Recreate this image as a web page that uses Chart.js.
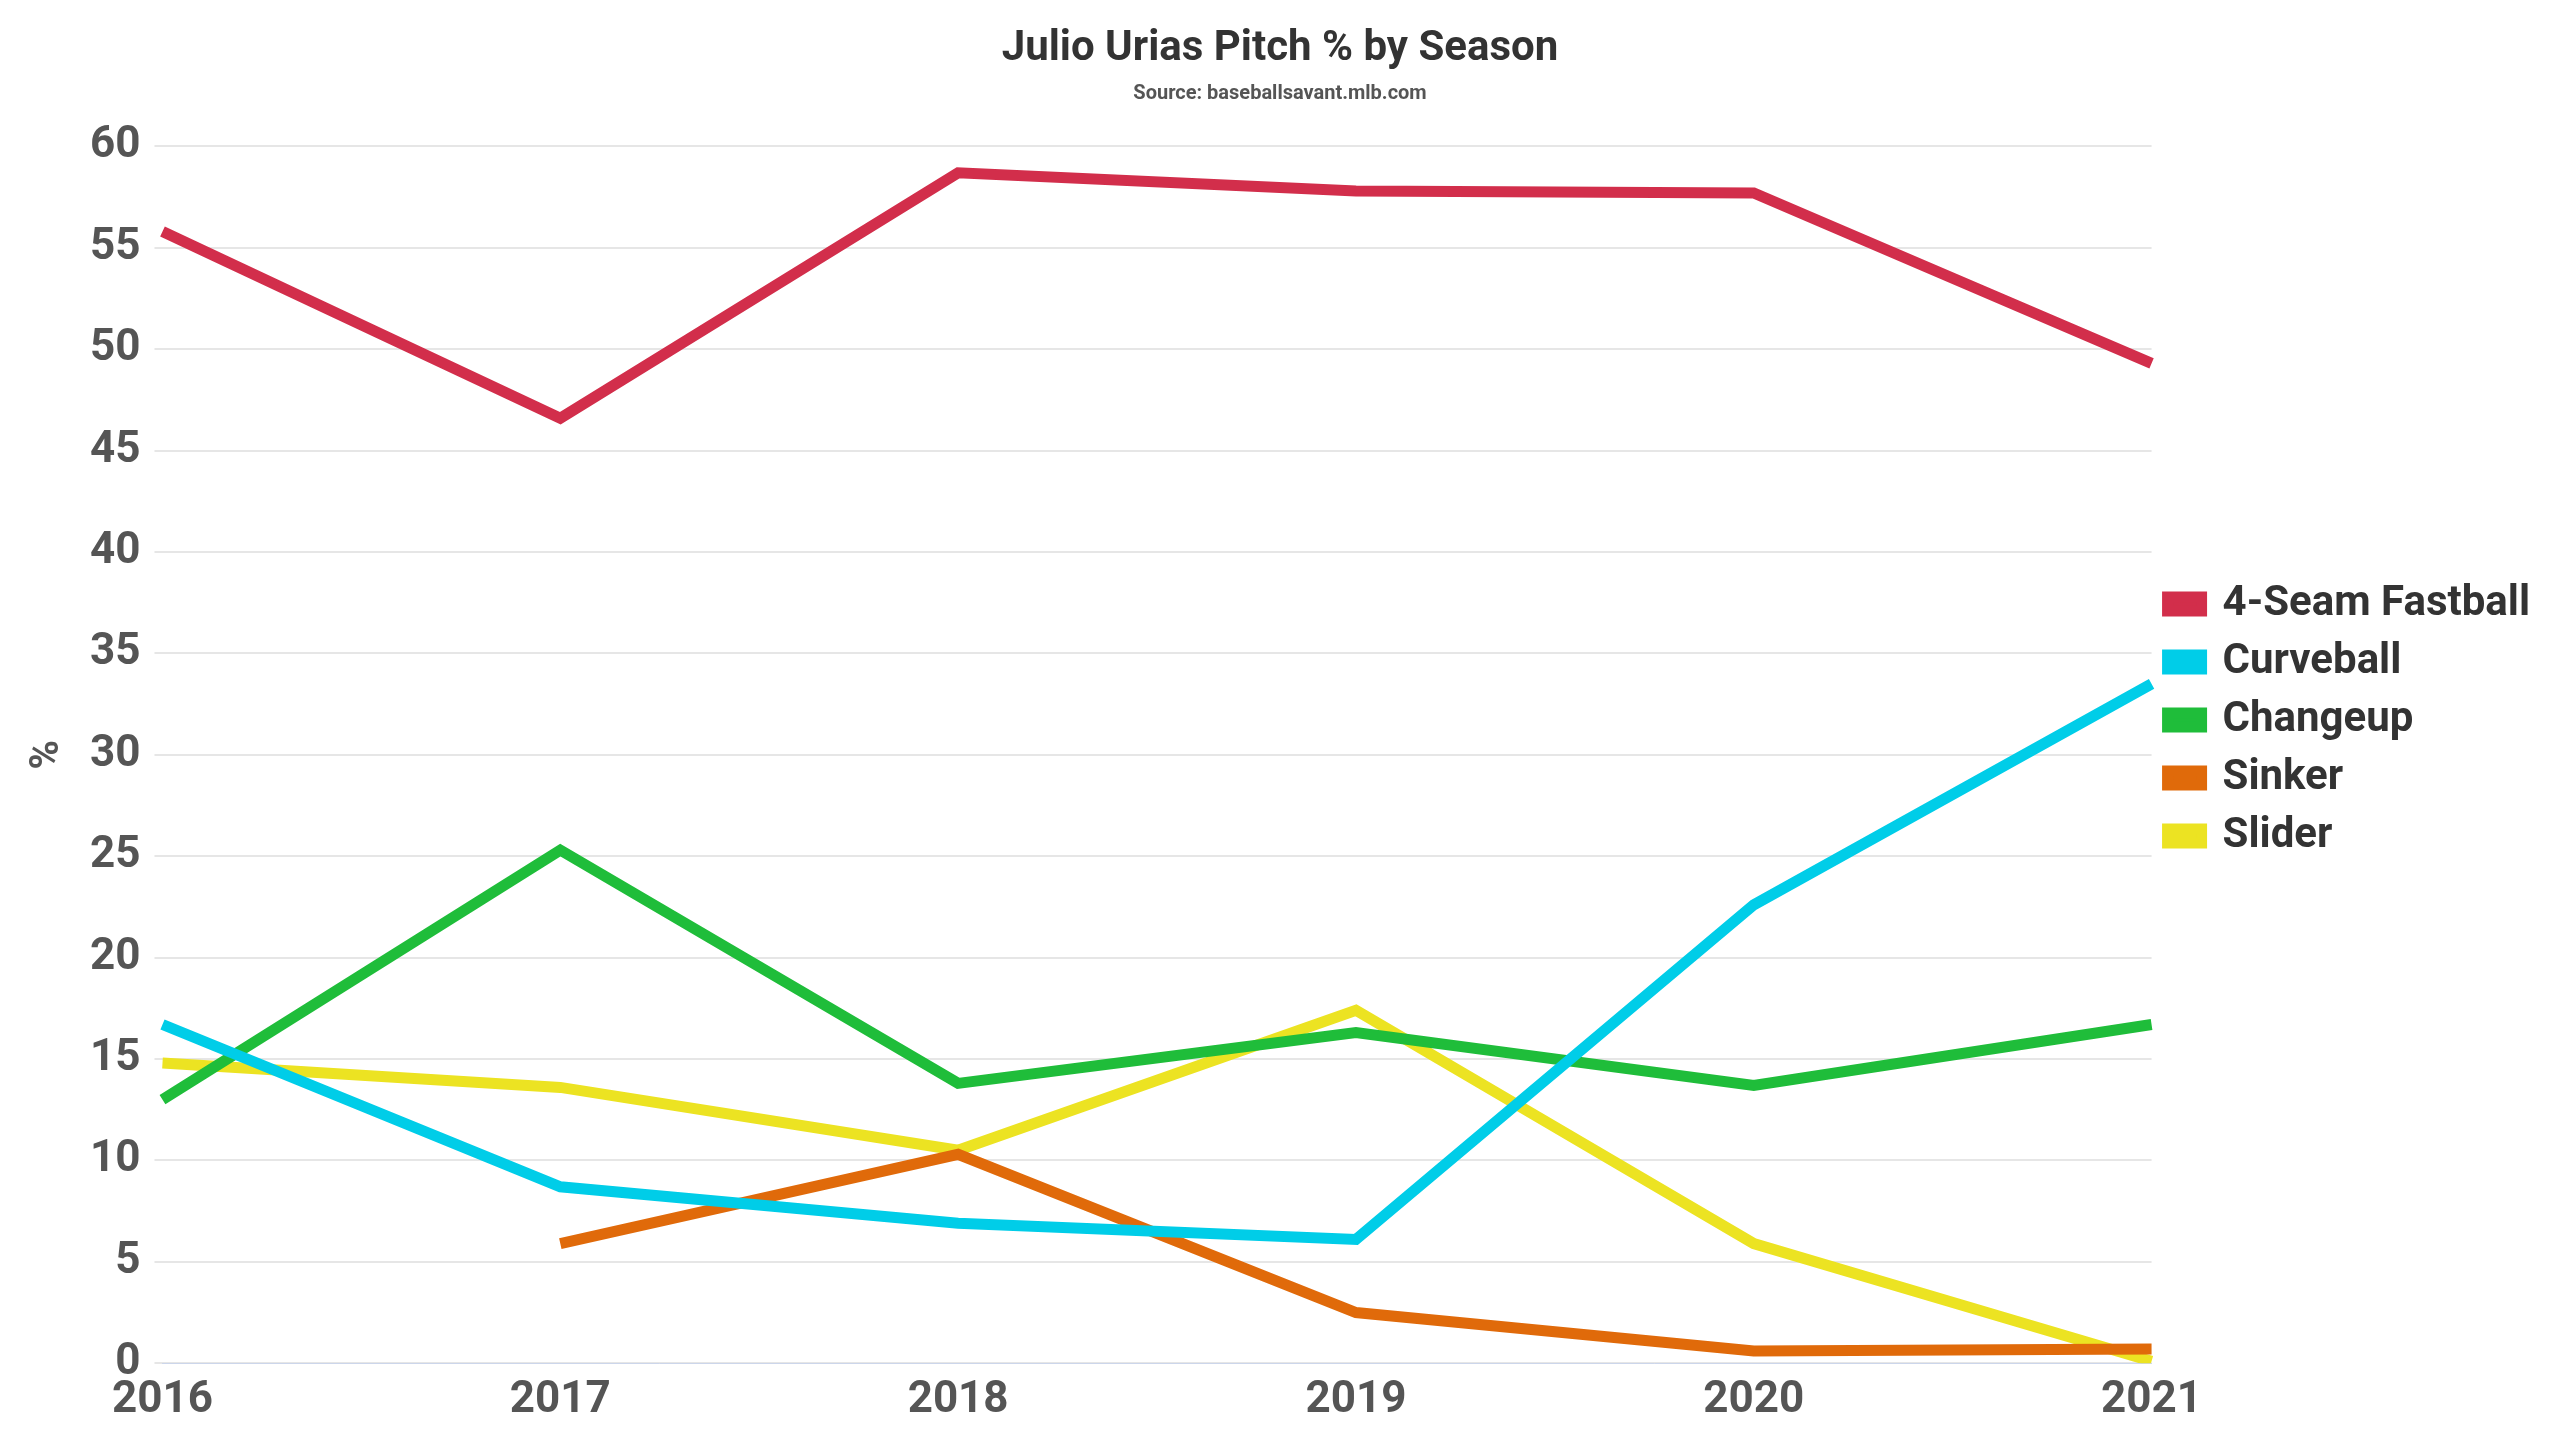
<!DOCTYPE html>
<html>
<head>
<meta charset="utf-8">
<script src="https://cdn.jsdelivr.net/npm/chart.js@4"></script>
<style>
  html, body { margin: 0; padding: 0; background: #fff; }
  #wrap { width: 2560px; height: 1440px; }
</style>
</head>
<body>
<div id="wrap"><canvas id="chart"></canvas></div>
<script>
const seasons = ['2016', '2017', '2018', '2019', '2020', '2021'];
const fourSeam = [55.8, 46.6, 58.7, 57.8, 57.7, 49.3];
const curveball = [16.7, 8.7, 6.9, 6.1, 22.6, 33.5];
const changeup = [13.0, 25.3, 13.8, 16.3, 13.7, 16.7];
const sinker = [null, 5.9, 10.3, 2.5, 0.6, 0.7];
const slider = [14.8, 13.6, 10.5, 17.4, 5.9, 0.1];
const yTicks = [0, 5, 10, 15, 20, 25, 30, 35, 40, 45, 50, 55, 60];

const font = 'Roboto';
const series = (label, data, color) => ({
  label, data, borderColor: color, backgroundColor: color,
  borderWidth: 11, pointRadius: 0, fill: false, tension: 0
});

const ctx = document.querySelector('#chart').getContext('2d');
new Chart(ctx, {
  type: 'line',
  data: {
    labels: seasons,
    datasets: [
      series('4-Seam Fastball', fourSeam, '#d22e4b'),
      series('Curveball', curveball, '#00cde8'),
      series('Changeup', changeup, '#1fbd3a'),
      series('Sinker', sinker, '#e06a0a'),
      series('Slider', slider, '#ece322')
    ]
  },
  options: {
    responsive: true,
    maintainAspectRatio: false,
    animation: false,
    layout: { padding: { left: 20, right: 20, top: 10, bottom: 10 } },
    plugins: {
      title: {
        display: true, text: 'Julio Urias Pitch % by Season', color: '#333',
        font: { family: font, size: 42, weight: 'bold' }, padding: { top: 14, bottom: 8 }
      },
      subtitle: {
        display: true, text: 'Source: baseballsavant.mlb.com', color: '#555',
        font: { family: font, size: 20, weight: 'bold' }, padding: { bottom: 40 }
      },
      legend: {
        position: 'right',
        labels: {
          color: '#333', boxWidth: 34, boxHeight: 14, padding: 16,
          font: { family: font, size: 42, weight: 'bold' }
        }
      }
    },
    scales: {
      x: {
        offset: false,
        grid: { display: false },
        border: { color: '#ccd6eb' },
        ticks: { color: '#555', font: { family: font, size: 44, weight: 'bold' } }
      },
      y: {
        min: 0, max: 60,
        afterBuildTicks: axis => { axis.ticks = yTicks.map(v => ({ value: v })); },
        grid: { color: '#e6e6e6', lineWidth: 2 },
        border: { display: false },
        title: {
          display: true, text: '%', color: '#555',
          font: { family: font, size: 40, weight: 'bold' }
        },
        ticks: { color: '#555', padding: 14, font: { family: font, size: 44, weight: 'bold' } }
      }
    }
  }
});
</script>
</body>
</html>
